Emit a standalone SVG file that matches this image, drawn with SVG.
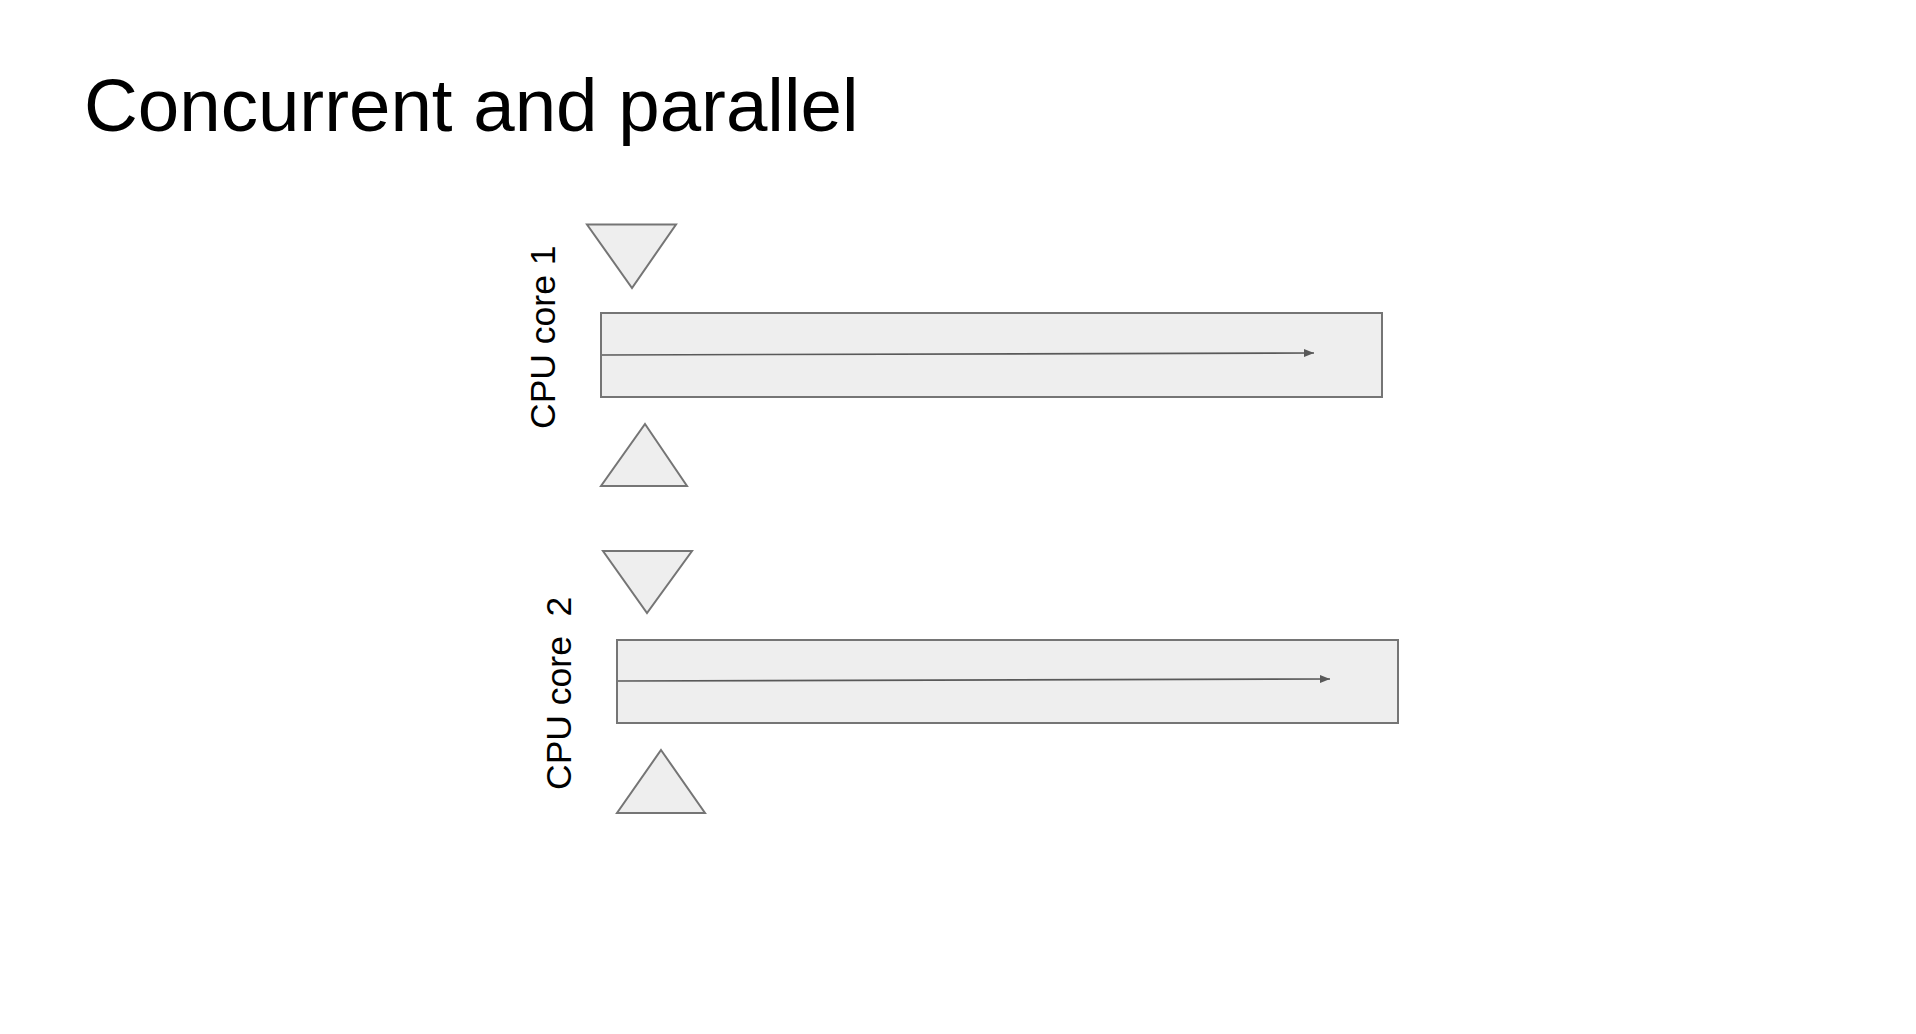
<svg xmlns="http://www.w3.org/2000/svg" width="1916" height="1034" viewBox="0 0 1916 1034">
<style>
.shape{fill:#eeeeee;stroke:#757575;stroke-width:2}
.lbl{font-family:"Liberation Sans",Arial,sans-serif;font-size:35.5px;fill:#000;white-space:pre}
.title{font-family:"Liberation Sans",Arial,sans-serif;font-size:74.5px;fill:#000}
.flow{stroke:#595959;stroke-width:1.6;fill:none}
</style>
<defs>
<marker id="ah" viewBox="0 0 10 8" refX="10" refY="4" markerWidth="10" markerHeight="8" markerUnits="userSpaceOnUse" orient="auto">
<path d="M0,0 L10,4 L0,8 Z" fill="#595959"/>
</marker>
</defs>
<rect width="1916" height="1034" fill="#ffffff"/>
<text class="title" x="84" y="131">Concurrent and parallel</text>
<g id="core1">
<polygon class="shape" points="587,224.5 676,224.5 632,288"/>
<rect class="shape" x="601" y="313" width="781" height="84"/>
<polygon class="shape" points="645,424 687,486 601,486"/>
<text class="lbl" transform="translate(555,429) rotate(-90)">CPU core 1</text>
</g>
<g id="core2">
<polygon class="shape" points="603,551 692,551 647,613"/>
<rect class="shape" x="617" y="640" width="781" height="83"/>
<polygon class="shape" points="661,750 705,813 617,813"/>
<text class="lbl" transform="translate(571,790) rotate(-90)" xml:space="preserve">CPU core  2</text>
</g>
<g id="connectors">
<line class="flow" x1="602" y1="355" x2="1314" y2="353" marker-end="url(#ah)"/>
<line class="flow" x1="618" y1="681" x2="1330" y2="679" marker-end="url(#ah)"/>
</g>
</svg>
